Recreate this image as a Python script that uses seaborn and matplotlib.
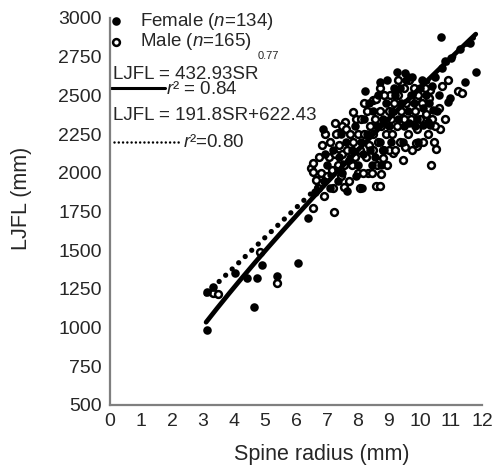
import numpy as np
import pandas as pd
import seaborn as sns
import matplotlib.pyplot as plt

# Female points (filled circles)
female_radius = [3.14, 3.14, 3.33, 4.03, 4.41, 4.73, 4.65, 4.90, 5.38, 6.08,
                 6.40, 6.61, 6.88, 8.23, 8.71, 9.52, 9.62, 10.67, 11.81, 11.45,
                 10.97, 10.90, 10.10, 10.32, 10.43, 8.12,
                 6.90, 7.00, 7.10, 7.20, 6.95,
                 7.40, 7.50, 7.60, 7.70, 7.45, 7.35,
                 7.80, 7.90, 8.00, 8.10, 8.20, 7.95, 8.15,
                 8.30, 8.40, 8.50, 8.60, 8.70, 8.45, 8.35, 8.65, 8.55,
                 8.80, 8.90, 9.00, 9.10, 9.20, 8.85, 9.05, 9.15, 8.95,
                 9.30, 9.40, 9.50, 9.60, 9.70, 9.35, 9.45, 9.55, 9.65,
                 9.80, 9.90, 10.00, 10.10, 10.20, 9.85, 10.05,
                 10.30, 10.40, 10.50, 10.60, 10.70, 10.80,
                 11.00, 11.30, 11.60,
                 9.25, 9.75, 8.75, 9.95, 7.65, 10.25, 10.55]
female_ljfl = [985, 1228, 1265, 1351, 1318, 1318, 1130, 1404, 1333, 1418,
               1706, 1878, 2283, 2530, 2589, 2643, 2621, 2880, 2653, 2589,
               2481, 2460, 2309, 2309, 2406, 1900,
               1950, 2050, 1900, 2150, 2120,
               2100, 2000, 2200, 2080, 2250, 1950,
               2150, 2300, 2050, 2200, 2350, 1980, 2120,
               2250, 2150, 2400, 2300, 2200, 2050, 2450, 2500, 2100,
               2350, 2450, 2300, 2400, 2500, 2150, 2200, 2550, 2600,
               2350, 2450, 2300, 2400, 2500, 2550, 2200, 2600, 2320,
               2450, 2350, 2550, 2420, 2500, 2300, 2600,
               2450, 2560, 2620, 2500, 2680, 2720,
               2740, 2800, 2840,
               2650, 2620, 2050, 2200, 1880, 2330, 2400]

# Male points (open circles)
male_radius = [3.31, 3.49, 4.84, 5.38, 6.56, 7.24, 6.50, 6.56, 6.63, 6.56,
               7.26, 7.58, 7.37, 7.85, 8.50, 8.58, 9.03, 9.89, 10.32, 11.24,
               11.37, 10.65, 10.52, 10.37, 9.52, 9.89, 9.87, 9.14, 8.80, 8.74,
               8.33, 8.58, 8.71, 7.56, 8.06,
               6.70, 6.75, 6.80, 6.85, 6.90, 6.95, 7.00,
               7.05, 7.10, 7.15, 7.20, 7.25, 7.30, 7.35, 7.40, 7.45, 7.50, 7.50,
               7.55, 7.60, 7.65, 7.70, 7.75, 7.80, 7.85, 7.90, 7.95, 8.00, 8.00,
               8.05, 8.10, 8.15, 8.20, 8.25, 8.30, 8.35, 8.40, 8.45, 8.50, 8.50, 8.20,
               8.55, 8.60, 8.65, 8.70, 8.75, 8.80, 8.85, 8.90, 8.95, 9.00, 9.00, 8.70,
               9.05, 9.10, 9.15, 9.20, 9.25, 9.30, 9.35, 9.40, 9.45, 9.50, 9.50, 9.30,
               9.55, 9.60, 9.65, 9.70, 9.75, 9.80, 9.85, 9.90, 9.95, 10.00,
               10.05, 10.10, 10.15, 10.20, 10.25, 10.30, 10.40, 10.45, 10.50,
               10.60, 10.70, 10.80, 10.90]
male_ljfl = [1225, 1215, 1490, 1286, 1771, 1745, 2028, 2007, 1953, 2060,
             2324, 2330, 2255, 2395, 2470, 2475, 2503, 2481, 2535, 2530,
             2513, 2285, 2155, 2048, 2165, 2175, 2192, 2128, 2096, 1990,
             1997, 1915, 1915, 1906, 1900,
             1900, 2100, 2000, 2180, 1850, 2250, 1980,
             2100, 2200, 2020, 1900, 2120, 2250, 2050, 2180, 1980, 2300, 2120,
             2050, 2280, 2150, 1950, 2250, 2050, 2200, 2100, 2350, 2000, 2250,
             2150, 2350, 2000, 2250, 2100, 2400, 2180, 2300, 2000, 2250, 2150, 2450,
             2350, 2050, 2200, 2400, 2300, 2150, 2500, 2250, 2050, 2400, 2150, 2550,
             2350, 2250, 2450, 2150, 2300, 2500, 2200, 2400, 2080, 2350, 2550, 2600,
             2450, 2250, 2600, 2350, 2150, 2550, 2400, 2280, 2500, 2350,
             2450, 2200, 2550, 2380, 2250, 2480, 2350, 2200, 2300,
             2420, 2560, 2350, 2600]

# fitted equations printed on the chart
power_a, power_b = 432.93, 0.77
lin_slope, lin_icpt = 191.8, 622.43
fit_start, fit_end = 3.1, 11.8

x_ticks = list(range(0, 13))
y_ticks = list(range(500, 3001, 250))

sns.set_style('white')
plt.rcParams['font.family'] = ['Liberation Sans', 'DejaVu Sans']
plt.rcParams['mathtext.fontset'] = 'custom'
plt.rcParams['mathtext.rm'] = 'Liberation Sans'
plt.rcParams['mathtext.it'] = 'Liberation Sans:italic'

df = pd.concat([
    pd.DataFrame({'radius': female_radius, 'ljfl': female_ljfl, 'sex': 'Female'}),
    pd.DataFrame({'radius': male_radius, 'ljfl': male_ljfl, 'sex': 'Male'}),
], ignore_index=True)

fig = plt.figure(figsize=(4.97, 4.67), dpi=100)
ax = fig.add_axes([0.2213, 0.1328, 0.7485, 0.8287])

sns.scatterplot(data=df[df.sex == 'Male'], x='radius', y='ljfl', ax=ax,
                s=24, facecolor='white', edgecolor='black', linewidth=1.8,
                legend=False, zorder=3)
sns.scatterplot(data=df[df.sex == 'Female'], x='radius', y='ljfl', ax=ax,
                s=38, color='black', linewidth=0, legend=False, zorder=3)

# fitted lines
xs = np.linspace(fit_start, fit_end, 200)
ax.plot(xs, power_a * xs ** power_b, color='black', lw=3.4, zorder=4,
        solid_capstyle='round')
ax.plot(xs, lin_slope * xs + lin_icpt, color='black', lw=3.8, zorder=4,
        linestyle=(0, (0.01, 1.7)), dash_capstyle='round')

ax.set_xlim(0, 12)
ax.set_ylim(500, 3000)
ax.set_xticks(x_ticks)
ax.set_yticks(y_ticks)

for side in ['top', 'right']:
    ax.spines[side].set_visible(False)
for side in ['left', 'bottom']:
    ax.spines[side].set_color('#7f7f7f')
    ax.spines[side].set_linewidth(1.6)
ax.tick_params(direction='out', length=4, width=1.4, color='#7f7f7f',
               labelsize=14, pad=2)

ax.set_xlabel('Spine radius (mm)', fontsize=15.5)
ax.set_ylabel('LJFL (mm)', fontsize=15.5)
ax.xaxis.set_label_coords(0.57, -0.1)
ax.yaxis.set_label_coords(-0.21, 0.535)

# hand-made legend in upper left
fs = 13.5
ax.scatter([0.2], [2980], s=38, color='black', linewidth=0,
           clip_on=False, zorder=5)
ax.text(0.97, 2945, 'Female ($n$=134)', fontsize=fs, va='baseline')
ax.scatter([0.2], [2845], s=24, facecolor='white', edgecolor='black',
           linewidth=1.8, clip_on=False, zorder=5)
ax.text(0.97, 2821, 'Male ($n$=165)', fontsize=fs, va='baseline')

t1 = ax.text(0.1, 2605, 'LJFL = 432.93SR', fontsize=fs, va='baseline')
fig.canvas.draw()
bb = t1.get_window_extent().transformed(ax.transData.inverted())
ax.text(bb.x1 - 0.02, 2735, '0.77', fontsize=8, va='baseline')
ax.plot([0.04, 1.77], [2548, 2548], color='black', lw=2.2, clip_on=False)
ax.text(1.8, 2512, '$r$² = 0.84', fontsize=fs, va='baseline')

ax.text(0.1, 2341, 'LJFL = 191.8SR+622.43', fontsize=fs, va='baseline')
ax.plot([0.13, 2.25], [2199, 2199], color='black', lw=1.8, clip_on=False,
        linestyle=(0, (0.01, 1.7)), dash_capstyle='round')
ax.text(2.35, 2167, '$r$²=0.80', fontsize=fs, va='baseline')

plt.savefig('out.png', dpi=100)
